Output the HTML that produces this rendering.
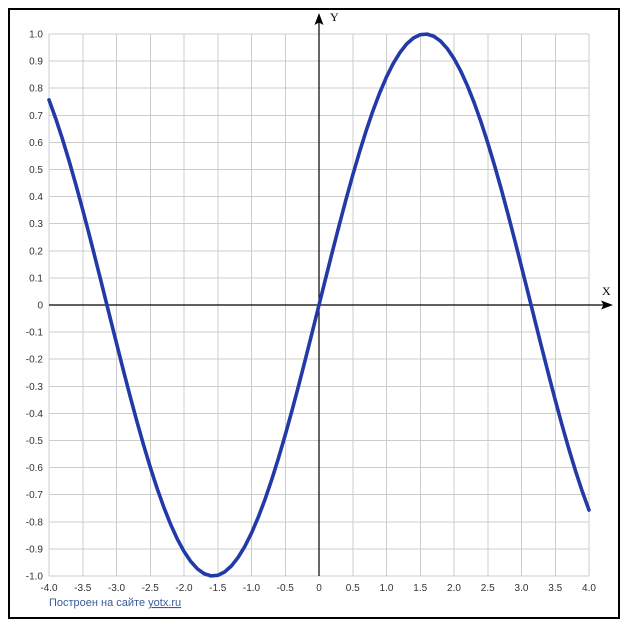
<!DOCTYPE html>
<html><head><meta charset="utf-8"><style>
html,body{margin:0;padding:0;background:#fff;}
svg{display:block;}
.t{font-family:"Liberation Sans","DejaVu Sans",sans-serif;font-size:10px;fill:#333;}
</style></head><body>
<svg width="627" height="630" viewBox="0 0 627 630" xmlns="http://www.w3.org/2000/svg">
<rect x="0" y="0" width="627" height="630" fill="#fff"/>
<rect x="9" y="9" width="610" height="609" fill="none" stroke="#000" stroke-width="2"/>
<g stroke="#cccccc" stroke-width="1" shape-rendering="crispEdges">
<line x1="49" y1="34" x2="49" y2="576"/><line x1="82.75" y1="34" x2="82.75" y2="576"/><line x1="116.5" y1="34" x2="116.5" y2="576"/><line x1="150.25" y1="34" x2="150.25" y2="576"/><line x1="184" y1="34" x2="184" y2="576"/><line x1="217.75" y1="34" x2="217.75" y2="576"/><line x1="251.5" y1="34" x2="251.5" y2="576"/><line x1="285.25" y1="34" x2="285.25" y2="576"/><line x1="352.75" y1="34" x2="352.75" y2="576"/><line x1="386.5" y1="34" x2="386.5" y2="576"/><line x1="420.25" y1="34" x2="420.25" y2="576"/><line x1="454" y1="34" x2="454" y2="576"/><line x1="487.75" y1="34" x2="487.75" y2="576"/><line x1="521.5" y1="34" x2="521.5" y2="576"/><line x1="555.25" y1="34" x2="555.25" y2="576"/><line x1="589" y1="34" x2="589" y2="576"/>
<line x1="49" y1="34" x2="589" y2="34"/><line x1="49" y1="61.1" x2="589" y2="61.1"/><line x1="49" y1="88.2" x2="589" y2="88.2"/><line x1="49" y1="115.3" x2="589" y2="115.3"/><line x1="49" y1="142.4" x2="589" y2="142.4"/><line x1="49" y1="169.5" x2="589" y2="169.5"/><line x1="49" y1="196.6" x2="589" y2="196.6"/><line x1="49" y1="223.7" x2="589" y2="223.7"/><line x1="49" y1="250.8" x2="589" y2="250.8"/><line x1="49" y1="277.9" x2="589" y2="277.9"/><line x1="49" y1="332.1" x2="589" y2="332.1"/><line x1="49" y1="359.2" x2="589" y2="359.2"/><line x1="49" y1="386.3" x2="589" y2="386.3"/><line x1="49" y1="413.4" x2="589" y2="413.4"/><line x1="49" y1="440.5" x2="589" y2="440.5"/><line x1="49" y1="467.6" x2="589" y2="467.6"/><line x1="49" y1="494.7" x2="589" y2="494.7"/><line x1="49" y1="521.8" x2="589" y2="521.8"/><line x1="49" y1="548.9" x2="589" y2="548.9"/><line x1="49" y1="576" x2="589" y2="576"/>
</g>
<g stroke="#000" stroke-width="1.2">
<line x1="49" y1="305" x2="604" y2="305"/>
<line x1="319" y1="576" x2="319" y2="22"/>
</g>
<polygon points="613,305 601,300.5 603.5,305 601,309.5" fill="#000"/>
<polygon points="319,13 314.5,25 319,22.5 323.5,25" fill="#000"/>
<text x="330" y="21" font-family="Liberation Serif,serif" font-size="12" fill="#000">Y</text>
<text x="602" y="295" font-family="Liberation Serif,serif" font-size="12" fill="#000">X</text>
<g class="t" text-anchor="end">
<text x="43" y="37.5">1.0</text><text x="43" y="64.6">0.9</text><text x="43" y="91.7">0.8</text><text x="43" y="118.8">0.7</text><text x="43" y="145.9">0.6</text><text x="43" y="173">0.5</text><text x="43" y="200.1">0.4</text><text x="43" y="227.2">0.3</text><text x="43" y="254.3">0.2</text><text x="43" y="281.4">0.1</text><text x="43" y="308.5">0</text><text x="43" y="335.6">-0.1</text><text x="43" y="362.7">-0.2</text><text x="43" y="389.8">-0.3</text><text x="43" y="416.9">-0.4</text><text x="43" y="444">-0.5</text><text x="43" y="471.1">-0.6</text><text x="43" y="498.2">-0.7</text><text x="43" y="525.3">-0.8</text><text x="43" y="552.4">-0.9</text><text x="43" y="579.5">-1.0</text>
</g>
<g class="t" text-anchor="middle">
<text x="49" y="591">-4.0</text><text x="82.75" y="591">-3.5</text><text x="116.5" y="591">-3.0</text><text x="150.25" y="591">-2.5</text><text x="184" y="591">-2.0</text><text x="217.75" y="591">-1.5</text><text x="251.5" y="591">-1.0</text><text x="285.25" y="591">-0.5</text><text x="319" y="591">0</text><text x="352.75" y="591">0.5</text><text x="386.5" y="591">1.0</text><text x="420.25" y="591">1.5</text><text x="454" y="591">2.0</text><text x="487.75" y="591">2.5</text><text x="521.5" y="591">3.0</text><text x="555.25" y="591">3.5</text><text x="589" y="591">4.0</text>
</g>
<polyline fill="none" stroke="#2239a8" stroke-width="3.6" stroke-linejoin="round" stroke-linecap="round" points="49,99.91 55.75,118.61 62.5,139.18 69.25,161.42 76,185.08 82.75,209.93 89.5,235.76 96.25,262.26 103,289.17 109.75,316.27 116.5,343.24 123.25,369.82 130,395.79 136.75,420.83 143.5,444.7 150.25,467.19 157,488.06 163.75,507.08 170.5,524.1 177.25,538.93 184,551.42 190.75,561.45 197.5,568.9 204.25,573.75 211,575.89 217.75,575.32 224.5,572.04 231.25,566.14 238,557.57 244.75,546.52 251.5,533.05 258.25,517.27 265,499.42 271.75,479.58 278.5,458.01 285.25,434.92 292,410.53 298.75,385.08 305.5,358.85 312.25,332.05 319,305 325.75,277.95 332.5,251.15 339.25,224.92 346,199.47 352.75,175.08 359.5,151.99 366.25,130.42 373,110.58 379.75,92.73 386.5,76.95 393.25,63.48 400,52.43 406.75,43.86 413.5,37.96 420.25,34.68 427,34.11 433.75,36.25 440.5,41.1 447.25,48.55 454,58.58 460.75,71.07 467.5,85.9 474.25,102.92 481,121.94 487.75,142.81 494.5,165.3 501.25,189.17 508,214.21 514.75,240.18 521.5,266.76 528.25,293.73 535,320.83 541.75,347.74 548.5,374.24 555.25,400.07 562,424.92 568.75,448.58 575.5,470.82 582.25,491.39 589,510.09"/>
<text x="49" y="606" font-family="Liberation Sans,DejaVu Sans,sans-serif" font-size="11" fill="#3a5a9e">Построен на сайте <tspan text-decoration="underline">yotx.ru</tspan></text>
</svg>
</body></html>
